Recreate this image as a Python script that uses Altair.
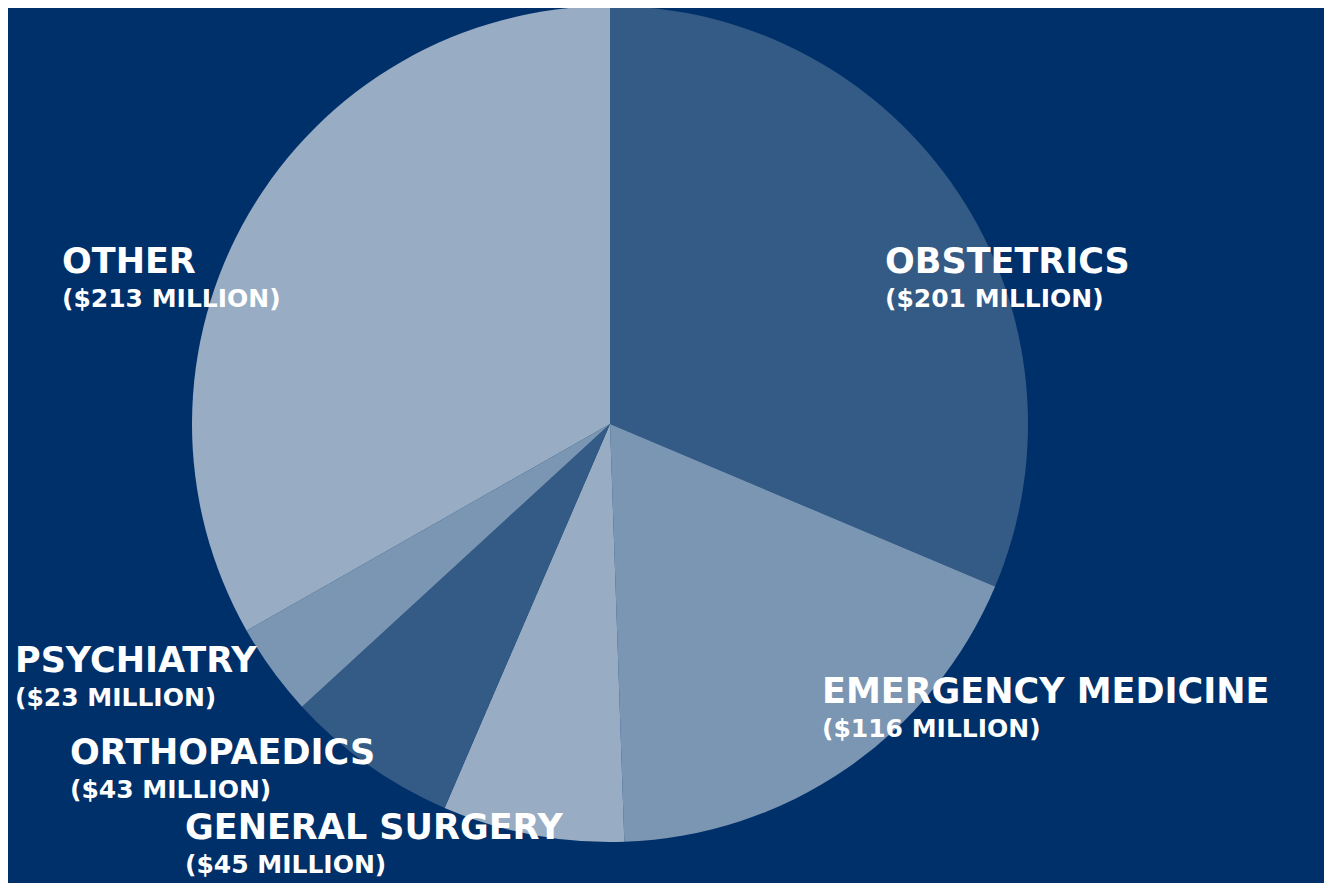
import altair as alt
import pandas as pd

categories = ["OBSTETRICS", "EMERGENCY MEDICINE", "GENERAL SURGERY", "ORTHOPAEDICS", "PSYCHIATRY", "OTHER"]
values = [201, 116, 45, 43, 23, 213]
colors = ["#345b85", "#7b96b2", "#98adc4", "#345b85", "#7b96b2", "#98adc4"]

# label anchor positions (chart pixel coords, left-aligned baseline of name line)
label_x = [877, 814, 177, 62, 7, 54]
label_y = [265, 695, 831, 756, 664, 265]
line_gap = 34

df = pd.DataFrame({
    "category": categories,
    "value": values,
    "order": list(range(len(categories))),
})
lab = pd.DataFrame({
    "category": categories,
    "sub": [f"(${v} MILLION)" for v in values],
    "lx": label_x,
    "ly": label_y,
})
lab["ly2"] = lab["ly"] + line_gap

CX, CY, R = 602, 416, 418
W, H = 1316, 875

pie = alt.Chart(df).mark_arc(radius=R, stroke=None).encode(
    theta=alt.Theta("value:Q", stack=True),
    order=alt.Order("order:Q"),
    color=alt.Color("category:N", scale=alt.Scale(domain=categories, range=colors), legend=None),
    x=alt.value(CX),
    y=alt.value(CY),
)

xs = alt.Scale(domain=[0, W], range=[0, W])
ys = alt.Scale(domain=[0, H], range=[0, H])

names = alt.Chart(lab).mark_text(
    align="left", baseline="alphabetic", font="DejaVu Sans", fontSize=35,
    fontWeight="bold", color="white"
).encode(
    x=alt.X("lx:Q", scale=xs, axis=None),
    y=alt.Y("ly:Q", scale=ys, axis=None),
    text="category:N",
)

subs = alt.Chart(lab).mark_text(
    align="left", baseline="alphabetic", font="DejaVu Sans", fontSize=25,
    fontWeight="bold", color="white"
).encode(
    x=alt.X("lx:Q", scale=xs, axis=None),
    y=alt.Y("ly2:Q", scale=ys, axis=None),
    text="sub:N",
)

chart = alt.layer(pie, names, subs).properties(
    width=W, height=H, background="#00306a", padding=0,
    autosize=alt.AutoSizeParams(type="none"),
).configure_view(stroke=None)

chart.save("out.html", embed_options={"renderer": "svg", "actions": False})
